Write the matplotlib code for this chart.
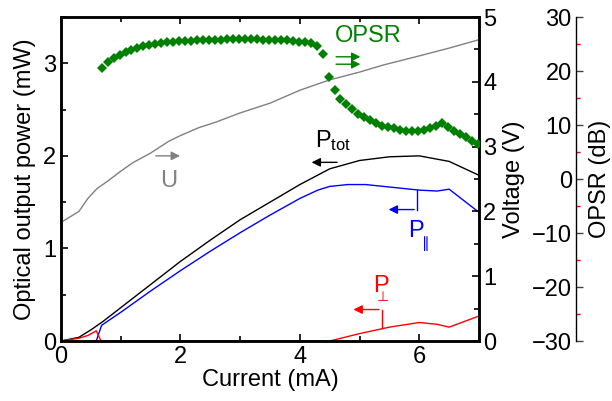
import matplotlib
matplotlib.use('Agg')
import matplotlib.pyplot as plt
from matplotlib.ticker import MultipleLocator

plt.rcParams['font.family'] = ['Liberation Sans', 'DejaVu Sans']
plt.rcParams['mathtext.fontset'] = 'custom'
plt.rcParams['mathtext.rm'] = 'Liberation Sans'
plt.rcParams['mathtext.default'] = 'regular'

# total power (mW)
tot_i = [0.0, 0.3, 0.5, 0.7, 1.0, 1.5, 2.0, 2.5, 3.0, 3.5, 4.0, 4.5, 5.0, 5.5, 6.0, 6.5, 7.0]
tot_p = [0.0, 0.04, 0.12, 0.21, 0.36, 0.61, 0.86, 1.09, 1.31, 1.50, 1.69, 1.86, 1.95, 1.99, 2.0, 1.94, 1.79]

# parallel polarisation (mW)
par_i = [0.59, 0.68, 1.0, 1.5, 2.0, 2.5, 3.0, 3.5, 4.0, 4.3, 4.5, 4.8, 5.1, 5.4, 5.7, 6.0, 6.3, 6.5, 7.0]
par_p = [0.0, 0.17, 0.31, 0.54, 0.76, 0.97, 1.17, 1.36, 1.54, 1.63, 1.67, 1.69, 1.69, 1.67, 1.65, 1.63, 1.62, 1.64, 1.39]

# orthogonal polarisation (mW)
perp_i = [0.0, 0.3, 0.45, 0.59, 0.67, 4.5, 5.0, 5.5, 6.0, 6.3, 6.5, 7.0]
perp_p = [0.0, 0.03, 0.06, 0.11, 0.0, 0.0, 0.08, 0.15, 0.20, 0.18, 0.15, 0.27]

# voltage (V)
u_i = [0.0, 0.3, 0.45, 0.6, 0.8, 1.0, 1.2, 1.5, 1.8, 2.0, 2.3, 2.6, 3.0, 3.5, 4.0, 4.5, 5.0, 5.4, 6.0, 6.5, 7.0]
u_v = [1.83, 2.0, 2.2, 2.35, 2.48, 2.62, 2.75, 2.9, 3.08, 3.17, 3.29, 3.38, 3.52, 3.67, 3.87, 4.03, 4.15, 4.26, 4.40, 4.52, 4.65]

# OPSR (dB)
opsr_i = [0.68, 0.78, 0.88, 0.98, 1.08, 1.18, 1.28, 1.38, 1.48, 1.58,
          1.68, 1.78, 1.88, 1.98, 2.08, 2.18, 2.28, 2.38, 2.48, 2.58,
          2.68, 2.78, 2.88, 2.98, 3.08, 3.18, 3.28, 3.38, 3.48, 3.58,
          3.68, 3.78, 3.88, 3.98, 4.08, 4.18, 4.28, 4.38, 4.48, 4.58,
          4.68, 4.78, 4.88, 4.98, 5.08, 5.18, 5.28, 5.38, 5.48, 5.58,
          5.68, 5.78, 5.88, 5.98, 6.08, 6.18, 6.28, 6.38, 6.48, 6.58,
          6.68, 6.78, 6.88, 6.98]
opsr_db = [20.6, 21.6, 22.4, 23.0, 23.5, 23.95, 24.3, 24.55, 24.8, 25.0,
           25.15, 25.3, 25.4, 25.5, 25.55, 25.6, 25.65, 25.7, 25.75, 25.8,
           25.8, 25.85, 25.85, 25.85, 25.85, 25.85, 25.85, 25.8, 25.8, 25.75,
           25.7, 25.65, 25.55, 25.45, 25.3, 25.1, 24.6, 23.1, 18.9, 16.5,
           14.9, 13.8, 12.9, 12.1, 11.4, 10.9, 10.3, 9.9, 9.6, 9.4,
           9.15, 8.95, 8.8, 8.85, 9.05, 9.4, 9.8, 10.4, 9.6, 8.9,
           8.3, 7.7, 7.0, 6.5]

fs = 17
green = '#008000'
gray = '#808080'

fig = plt.figure(figsize=(6.12, 4.01), dpi=100)
ax = fig.add_axes([0.0997, 0.1496, 0.6830, 0.8080])
ax2 = ax.twinx()
ax3 = ax.twinx()

ax.plot(tot_i, tot_p, color='black', lw=1)
ax.plot(par_i, par_p, color='blue', lw=1)
ax.plot(perp_i, perp_p, color='red', lw=1)
ax2.plot(u_i, u_v, color=gray, lw=1)
ax3.plot(opsr_i, opsr_db, 'D', color=green, markersize=5.5, markeredgewidth=0)

ax.set_xlim(0, 7)
ax.set_ylim(0, 3.5)
ax2.set_ylim(0, 5)
ax3.set_ylim(-30, 30)

ax.xaxis.set_major_locator(MultipleLocator(2))
ax.xaxis.set_minor_locator(MultipleLocator(1))
ax.yaxis.set_major_locator(MultipleLocator(1))
ax.yaxis.set_minor_locator(MultipleLocator(0.5))
ax2.yaxis.set_major_locator(MultipleLocator(1))
ax2.yaxis.set_minor_locator(MultipleLocator(0.5))
ax3.yaxis.set_major_locator(MultipleLocator(10))
ax3.yaxis.set_minor_locator(MultipleLocator(5))

for a in (ax, ax2):
    for s in a.spines.values():
        s.set_linewidth(1.8)
ax.tick_params(which='both', direction='in', top=True, right=False, labelsize=fs, width=1.2)
ax.tick_params(which='major', length=5)
ax.tick_params(which='minor', length=3.5)
ax2.tick_params(which='both', direction='in', labelsize=fs, width=1.2, pad=3)
ax2.tick_params(which='major', length=5)
ax2.tick_params(which='minor', length=3.5)

# separate OPSR axis
for k in ('top', 'bottom', 'right'):
    ax3.spines[k].set_visible(False)
ax3.spines['left'].set_visible(True)
ax3.spines['left'].set_position(('axes', 1.232))
ax3.spines['left'].set_linewidth(1.0)
ax3.yaxis.tick_left()
ax3.tick_params(which='both', direction='in', labelsize=fs, pad=3)
ax3.tick_params(which='major', length=5, color='#444444', width=1)
ax3.tick_params(which='minor', length=3, color='red', width=1)
ax3.patch.set_visible(False)

ax.set_xlabel('Current (mA)', fontsize=fs, labelpad=1)
ax.set_ylabel('Optical output power (mW)', fontsize=fs, labelpad=5)
ax2.set_ylabel('Voltage (V)', fontsize=fs, labelpad=5)
ax3.set_ylabel('OPSR (dB)', fontsize=fs)
ax3.yaxis.set_label_coords(1.264, 0.5)

arr = dict(arrowstyle='-|>', lw=1, mutation_scale=13)

# OPSR label and arrows
ax.text(5.15, 3.29, 'OPSR', color=green, fontsize=fs, ha='center', va='center')
ax.annotate('', xy=(5.06, 3.07), xytext=(4.56, 3.07), arrowprops=dict(arr, color=green))
ax.annotate('', xy=(5.06, 2.99), xytext=(4.56, 2.99), arrowprops=dict(arr, color=green))

# U
ax.annotate('', xy=(2.04, 2.0), xytext=(1.54, 2.0), arrowprops=dict(arr, color=gray))
ax.text(1.66, 1.66, 'U', color=gray, fontsize=fs, ha='left', va='baseline')

# P_tot
ax.annotate('', xy=(4.15, 1.93), xytext=(4.67, 1.93), arrowprops=dict(arr, color='black'))
ax.text(4.25, 2.09, r'P$_{tot}$', color='black', fontsize=fs, ha='left', va='baseline')

# P_parallel
ax.plot([5.96, 5.96], [1.63, 1.42], color='blue', lw=1)
ax.annotate('', xy=(5.44, 1.42), xytext=(5.96, 1.42), arrowprops=dict(arr, color='blue'))
ax.text(5.81, 1.12, 'P', color='blue', fontsize=fs, ha='left', va='baseline')
ax.text(6.05, 1.127, '\u2225', color='blue', fontsize=11, ha='left', va='top')

# P_perp
ax.plot([5.37, 5.37], [0.14, 0.34], color='red', lw=1)
ax.annotate('', xy=(4.85, 0.34), xytext=(5.37, 0.34), arrowprops=dict(arr, color='red'))
ax.text(5.22, 0.53, 'P', color='red', fontsize=fs, ha='left', va='baseline')
ax.text(5.29, 0.553, '\u22a5', color='red', fontsize=10, ha='left', va='top')

plt.savefig('out.png', dpi=100)
